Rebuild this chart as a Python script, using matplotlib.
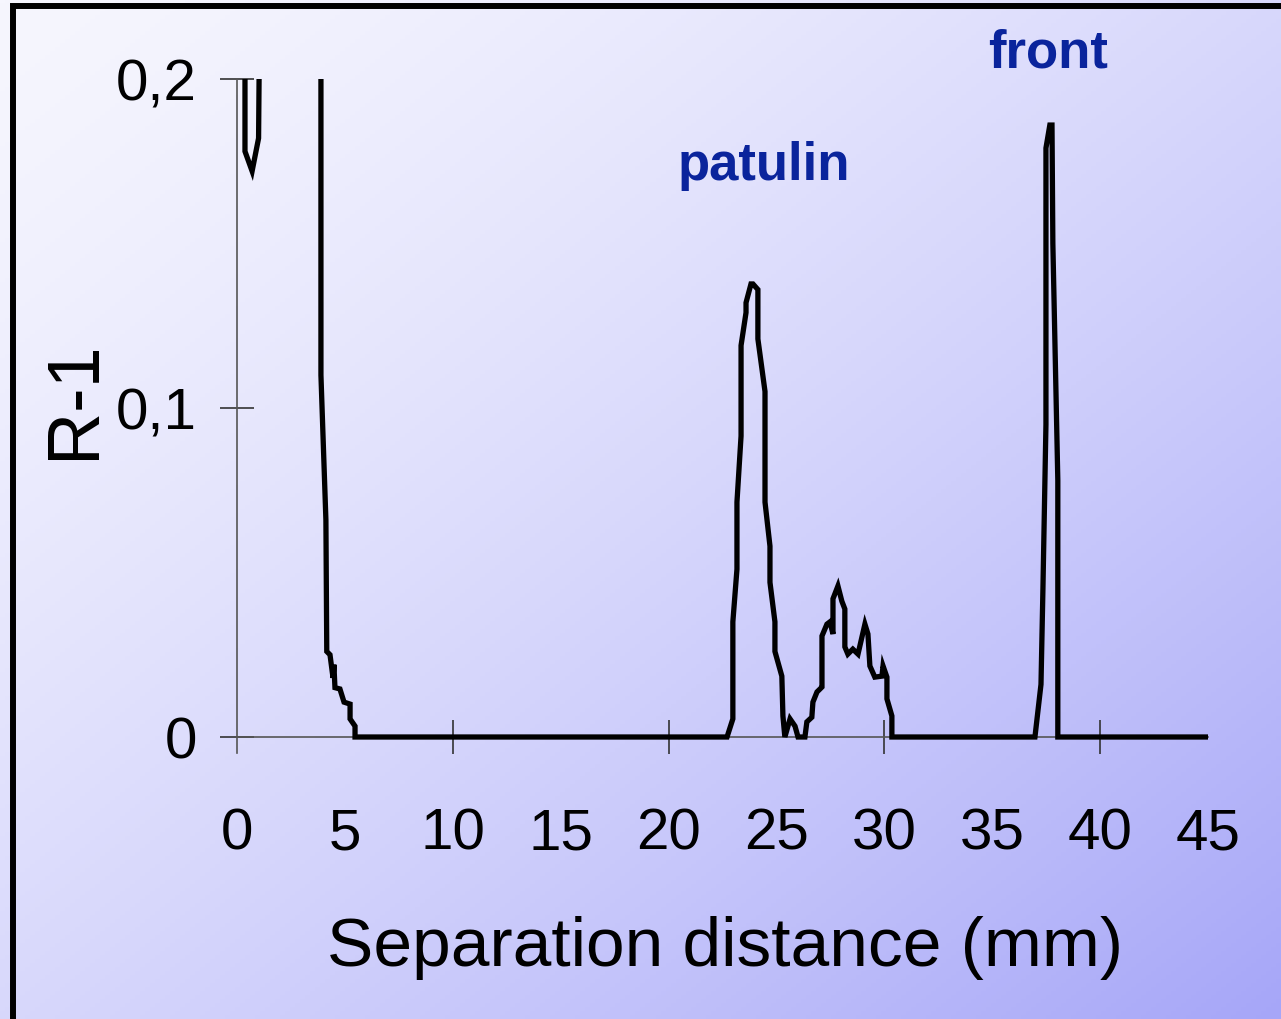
import numpy as np
import matplotlib
matplotlib.use("Agg")
from matplotlib import pyplot as plt
from matplotlib.patches import Rectangle
from matplotlib.ticker import FixedLocator

plt.rcParams['font.family'] = ['Liberation Sans', 'DejaVu Sans']

# separation distance (mm) and R-1 (values > 0.2 run off the top)
x_mm = [0.37, 0.37, 0.70, 1.00, 1.15, 3.89, 3.89, 4.12, 4.16, 4.31, 4.45, 4.49, 4.54,
        4.77, 4.96, 5.24, 5.24, 5.47, 5.47,
        22.71, 22.98, 22.98, 23.17, 23.17, 23.36, 23.36, 23.59, 23.59, 23.82, 23.91,
        24.14, 24.14, 24.47, 24.47, 24.70, 24.70, 24.93, 24.93, 25.25, 25.30, 25.39,
        25.63, 25.86, 26.00, 26.32, 26.41, 26.64, 26.69, 26.88, 27.02, 27.11, 27.11,
        27.34, 27.48, 27.62, 27.62, 27.85, 28.03, 28.17, 28.17, 28.31, 28.54, 28.78,
        29.10, 29.24, 29.33, 29.56, 29.89, 29.94, 30.12, 30.12, 30.35, 30.35,
        36.98, 37.26, 37.35, 37.49, 37.49, 37.67, 37.77, 37.81, 38.04, 38.04, 45.0]
r_minus_1 = [0.30, 0.178, 0.172, 0.182, 0.30, 0.30, 0.110, 0.066, 0.026, 0.025, 0.018, 0.022, 0.015,
             0.0146, 0.0106, 0.010, 0.0055, 0.0033, 0.0,
             0.0, 0.0055, 0.035, 0.051, 0.0714, 0.0915, 0.119, 0.129, 0.132, 0.1377, 0.1377,
             0.136, 0.121, 0.105, 0.0714, 0.058, 0.047, 0.035, 0.026, 0.0185, 0.0064, 0.0,
             0.0055, 0.0033, 0.0, 0.0, 0.0046, 0.006, 0.0106, 0.0137, 0.0146, 0.0152, 0.0307,
             0.0343, 0.035, 0.0313, 0.042, 0.0459, 0.0413, 0.0389, 0.0274, 0.0252, 0.0267, 0.0252,
             0.0343, 0.0313, 0.0216, 0.0182, 0.0185, 0.0216, 0.0182, 0.0116, 0.0064, 0.0,
             0.0, 0.016, 0.045, 0.095, 0.179, 0.186, 0.186, 0.150, 0.078, 0.0, 0.0]

x_ticks = [0, 5, 10, 15, 20, 25, 30, 35, 40, 45]
x_marks = [10, 20, 30, 40]
y_ticks = [0, 0.1, 0.2]
y_labels = ['0', '0,1', '0,2']

W, H = 1281, 1020
fig = plt.figure(figsize=(W / 100, H / 100), dpi=100)

# background gradient, white top-left to lavender bottom-right
bg = fig.add_axes([0, 0, 1, 1], zorder=-10)
u, v = np.meshgrid(np.linspace(0, 1, 256), np.linspace(0, 1, 256))
t = ((u + v) / 2) ** 1.4
c0 = np.array([246, 246, 254]) / 255
c1 = np.array([166, 166, 248]) / 255
img = c0[None, None, :] * (1 - t[..., None]) + c1[None, None, :] * t[..., None]
bg.imshow(img, aspect='auto', extent=[0, 1, 0, 1], origin='upper')
bg.set_axis_off()

# black frame (left and top visible)
fig.patches.append(Rectangle((12.5 / W, -0.1), 1.2, 1.1 - 7 / H, transform=fig.transFigure,
                             fill=False, ec='black', lw=4.3, zorder=-5))

# axes placed so x 0..45 -> px 237..1208, y 0..0.2 -> py 738..80
ymin = -0.004
px_per_y = (738 - 80) / 0.2
left, right = 237, 1208
top = 80
bottom = 738 - ymin * px_per_y
ax = fig.add_axes([left / W, 1 - bottom / H, (right - left) / W, (bottom - top) / H])
ax.set_facecolor('none')
ax.set_xlim(0, 45)
ax.set_ylim(ymin, 0.2)
ax.spines['bottom'].set_position(('data', 0))
for s in ax.spines.values():
    s.set_visible(False)

ax.plot([0, 0], [-0.005, 0.2], color='#555555', lw=1.2, clip_on=False)
ax.plot([0, 45], [0, 0], color='#555555', lw=1.2, clip_on=False)

ax.plot(x_mm, r_minus_1, color='black', lw=3.8, solid_joinstyle='miter', zorder=3)

ax.set_xticks(x_ticks)
ax.set_xticklabels([str(v) for v in x_ticks], fontsize=42)
ax.tick_params(axis='x', which='major', length=0, pad=50)
ax.xaxis.remove_overlapping_locs = False
ax.xaxis.set_minor_locator(FixedLocator(x_marks))
ax.tick_params(axis='x', which='minor', direction='inout', length=24, width=1.2, color='#333333')

ax.set_yticks(y_ticks)
ax.set_yticklabels(y_labels, fontsize=42)
ax.tick_params(axis='y', direction='inout', length=24, width=1.2, color='#333333', pad=17)

fig.text(725 / W, 1 - 948 / H, 'Separation distance (mm)', fontsize=50, ha='center', va='center')
fig.text(75 / W, 1 - 400 / H, 'R-1', fontsize=53, ha='center', va='center', rotation=90)

fig.text(1048 / W, 1 - 68 / H, 'front', fontsize=38, fontweight='bold', color='#0a249c',
         ha='center', va='baseline')
fig.text(764 / W, 1 - 180 / H, 'patulin', fontsize=38, fontweight='bold', color='#0a249c',
         ha='center', va='baseline')

fig.savefig('out.png', dpi=100)
